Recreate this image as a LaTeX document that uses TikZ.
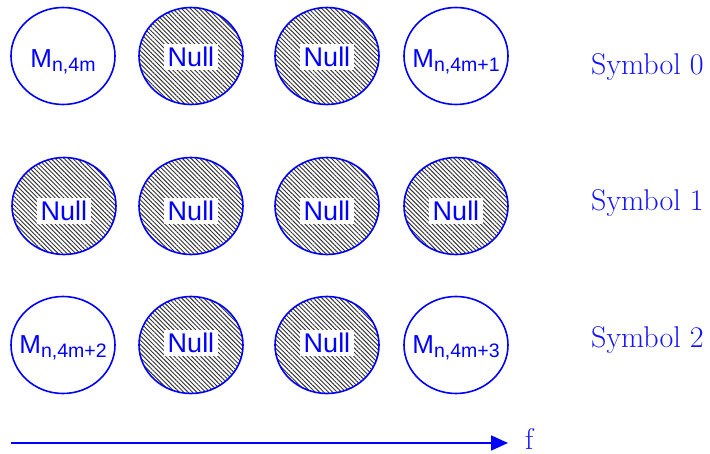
\documentclass[tikz,border=0pt]{standalone}
\usepackage{fontspec}
\setsansfont{Liberation Sans}
\usepackage{xcolor}
\usepackage{tikz}
\usetikzlibrary{arrows.meta, patterns.meta}

\definecolor{symblue}{RGB}{20,20,250}

\newcommand{\msym}[1]{{\fontsize{26}{26}\selectfont M}\raisebox{-4pt}{\fontsize{19.5}{19.5}\selectfont #1}}

\begin{document}
\begin{tikzpicture}[
        x=1pt, y=-1pt,
        datac/.style={draw=blue, line width=1.6pt, fill=white},
        msub/.style={font=\sffamily, text=blue, inner sep=1pt},
        nullc/.style={draw=blue, line width=1.6pt,
            pattern={Lines[angle=-45, distance=3.1pt, line width=0.95pt]}, pattern color=black!80},
        nulltag/.style={fill=white, font=\sffamily\fontsize{27}{27}\selectfont, text=blue, inner sep=3.5pt},
        symlab/.style={font=\fontsize{30}{30}\selectfont, text=symblue, anchor=west, inner sep=0pt},
        faxis/.style={draw=blue, line width=1.8pt, -{Triangle[length=17pt, width=15pt]}}
    ]
    \useasboundingbox (0,0) rectangle (710,454);

    % Symbol 0
    \draw[datac] (63,56) ellipse (52 and 48.5);
    \node[msub] (m0) at (63,62) {\msym{n,4m}};
    \draw[nullc] (191,56) ellipse (52 and 48.5);
    \node[nulltag] (n01) at (191,57) {Null};
    \draw[nullc] (327,56) ellipse (52 and 48.5);
    \node[nulltag] (n02) at (327,57) {Null};
    \draw[datac] (456,56) ellipse (52 and 48.5);
    \node[msub] (m1) at (456,62) {\msym{n,4m+1}};
    \node[symlab] (s0) at (591,67) {Symbol 0};

    % Symbol 1
    \foreach \i/\x in {0/64, 1/191, 2/327, 3/456} {
        \draw[nullc] (\x,206) ellipse (52 and 48.5);
        \node[nulltag] (n1\i) at (\x,211) {Null};
    }
    \node[symlab] (s1) at (591,203) {Symbol 1};

    % Symbol 2
    \draw[datac] (63,345) ellipse (52 and 48.5);
    \node[msub] (m2) at (63,348) {\msym{n,4m+2}};
    \draw[nullc] (191,345) ellipse (52 and 48.5);
    \node[nulltag] (n21) at (191,343) {Null};
    \draw[nullc] (327,345) ellipse (52 and 48.5);
    \node[nulltag] (n22) at (327,343) {Null};
    \draw[datac] (456,345) ellipse (52 and 48.5);
    \node[msub] (m3) at (456,348) {\msym{n,4m+3}};
    \node[symlab] (s2) at (591,340) {Symbol 2};

    % frequency axis
    \coordinate (fstart) at (11,443);
    \coordinate (fend) at (508,443);
    \draw[faxis] (fstart) -- (fend);
    \node[symlab] (f) at (525,439) {f};

\end{tikzpicture}
\end{document}
